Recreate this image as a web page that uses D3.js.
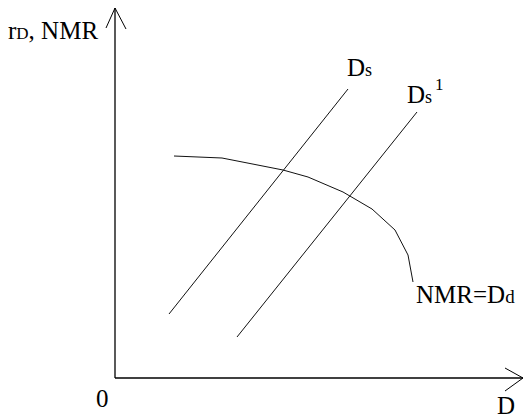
<!DOCTYPE html>
<html>
<head>
<meta charset="utf-8">
<script src="https://cdn.jsdelivr.net/npm/d3@7"></script>
<style>
  html, body { margin: 0; padding: 0; background: #fff; }
  svg text { font-family: "Liberation Serif", "Times New Roman", serif; fill: #000; }
</style>
</head>
<body>
<svg id="chart" width="523" height="419"></svg>
<script>
// supply lines (start, end) in chart units
const dsLine  = [[13.5, 16], [58.25, 72.25]];
const ds1Line = [[30.5, 10.25], [75.5, 66.5]];
// NMR = Dd curve
const nmrX = [14.75, 26.75, 42, 48.25, 57, 64.25, 70, 73.25, 74.5];
const nmrY = [55.5, 55, 52, 50.25, 46.5, 42.25, 37, 30.75, 24];

const width = 523, height = 419;
const svg = d3.select("#chart");

const x = d3.scaleLinear().domain([0, 102]).range([115, 523]);
const y = d3.scaleLinear().domain([0, 92.5]).range([378, 8]);

const line = d3.line().x(d => x(d[0])).y(d => y(d[1]));

// axes with open arrow heads
const ax = svg.append("g").attr("fill", "none").attr("stroke", "#000").attr("stroke-width", 1.3);
ax.append("path").attr("d", `M${x(0)},${y(0)}L${x(102)},${y(0)}`);
ax.append("path").attr("d", `M${x(0)},${y(0)}L${x(0)},${y(92.5)}`);
ax.append("path").attr("d", `M${x(102) - 18},${y(0) - 10}L${x(102)},${y(0)}L${x(102) - 18},${y(0) + 13}`)
    .attr("stroke-width", 1);
ax.append("path").attr("d", `M${x(0) - 9},${y(92.5) + 20}L${x(0)},${y(92.5)}L${x(0) + 11},${y(92.5) + 21}`)
    .attr("stroke-width", 1);

const g = svg.append("g").attr("fill", "none").attr("stroke", "#111").attr("stroke-width", 1);
g.append("path").attr("d", line(dsLine));
g.append("path").attr("d", line(ds1Line));
g.append("path").attr("d", line(d3.zip(nmrX, nmrY)));

// labels
const fs = 25;
function label(px, py, parts) {
    const t = svg.append("text").attr("x", px).attr("y", py).attr("font-size", fs);
    parts.forEach(p => {
        const s = t.append("tspan").text(p.t);
        if (p.size) s.attr("font-size", p.size);
        if (p.dy) s.attr("dy", p.dy);
        if (p.dx) s.attr("dx", p.dx);
    });
    return t;
}
label(8, 39, [{t: "r"}, {t: "D", size: 17}, {t: ", NMR"}]);
label(347, 76, [{t: "D"}, {t: "s", size: 18}]);
label(407, 103, [{t: "D"}, {t: "s", size: 18}, {t: "1", size: 17, dy: -13, dx: 3}]);
label(416, 303, [{t: "NMR=D"}, {t: "d", size: 19}]);
label(96, 407, [{t: "0"}]);
label(497, 414, [{t: "D"}]);
</script>
</body>
</html>
